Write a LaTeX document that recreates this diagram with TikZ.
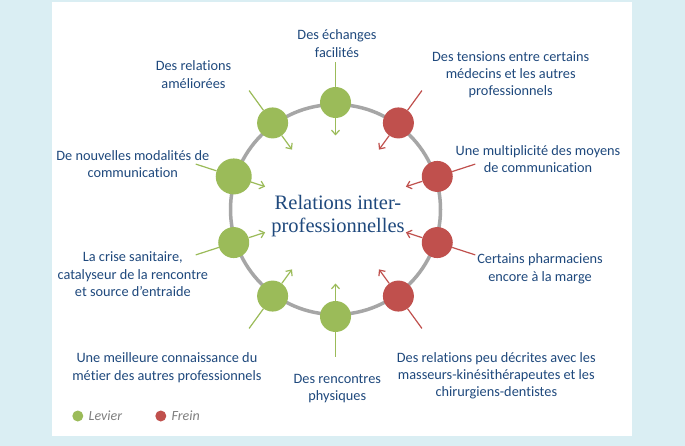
\documentclass[tikz,border=0pt]{standalone}
\usepackage{fontspec}
\setmainfont{Carlito}[Ligatures=NoCommon]
\newfontfamily\centrefont{Liberation Serif}
\usetikzlibrary{arrows.meta, positioning, calc}

\definecolor{panelbg}{HTML}{DAEEF3}
\definecolor{levergreen}{HTML}{9BBB59}
\definecolor{brakered}{HTML}{C0504D}
\definecolor{ringgray}{HTML}{A6A6A6}
\definecolor{textblue}{HTML}{1F497D}
\definecolor{legendgray}{HTML}{7F7F7F}

\begin{document}
\begin{tikzpicture}[
    x=1pt, y=1pt,
    font=\fontsize{14.3}{17.3}\selectfont,
    levier/.style={circle, fill=levergreen, minimum size=31pt, inner sep=0pt},
    levierbig/.style={levier, minimum size=36pt},
    frein/.style={circle, fill=brakered, minimum size=31pt, inner sep=0pt},
    levierarrow/.style={-{Straight Barb[length=4.5pt,width=8pt]}, levergreen, line width=1.2pt},
    freinarrow/.style={-{Straight Barb[length=4.5pt,width=8pt]}, brakered, line width=1.2pt},
    lab/.style={align=center, text=textblue, inner sep=0pt},
    legdot/.style={circle, minimum size=11pt, inner sep=0pt}
]

% panel
\useasboundingbox (0,0) rectangle (685,-446);
\fill[panelbg] (0,0) rectangle (685,-446);
\fill[white] (52,-2) rectangle (632,-436);

% ring
\coordinate (ctr) at (335.5,-209.5);
\draw[ringgray, line width=3.5pt] (ctr) circle[radius=105];

% ring nodes and their arrows
\foreach \name/\ang/\sty/\arr in {e/90/levier/levierarrow, r/126/levier/levierarrow,
    m/162/levierbig/levierarrow, c/198/levier/levierarrow, k/234/levier/levierarrow,
    p/270/levier/levierarrow, d/306/frein/freinarrow, ph/342/frein/freinarrow,
    mu/18/frein/freinarrow, t/54/frein/freinarrow} {
  \coordinate (\name-out) at ($(ctr)+(\ang:147)$);
  \coordinate (\name-in) at ($(ctr)+(\ang:74)$);
  \node[\sty] (\name) at ($(ctr)+(\ang:107)$) {};
  \draw[\arr] (\name-out) -- (\name) -- (\name-in);
}

% centre
\node[lab, font=\centrefont\fontsize{20.5}{23}\selectfont] (centre) at (338,-216.5) {Relations inter-\\professionnelles};

% labels
\node[lab] (l-e) at (337,-43.5) {Des échanges\\facilités};
\node[lab] (l-r) at (193.5,-74.5) {Des relations\\améliorées};
\node[lab] (l-t) at (510.7,-74.7) {Des tensions entre certains\\médecins et les autres\\professionnels};
\node[lab] (l-mu) at (538,-159) {Une multiplicité des moyens\\de communication};
\node[lab] (l-m) at (132.8,-164.4) {De nouvelles modalités de\\communication};
\node[lab] (l-c) at (132.8,-274.3) {La crise sanitaire,\\catalyseur de la rencontre\\et source d’entraide};
\node[lab] (l-ph) at (540,-268.7) {Certains pharmaciens\\encore à la marge};
\node[lab] (l-k) at (166.9,-367.7) {Une meilleure connaissance du\\métier des autres professionnels};
\node[lab] (l-p) at (337.3,-388.3) {Des rencontres\\physiques};
\node[lab] (l-d) at (496.3,-375.7) {Des relations peu décrites avec les\\masseurs-kinésithérapeutes et les\\chirurgiens-dentistes};

% legend
\node[legdot, fill=levergreen] (legl) at (77.8,-416) {};
\node[right=5pt of legl, inner sep=0pt, text=legendgray, font=\fontsize{14}{16}\selectfont\itshape] (leglt) {Levier};
\node[legdot, fill=brakered] (legf) at (160.8,-416) {};
\node[right=5pt of legf, inner sep=0pt, text=legendgray, font=\fontsize{14}{16}\selectfont\itshape] (legft) {Frein};

\end{tikzpicture}
\end{document}
